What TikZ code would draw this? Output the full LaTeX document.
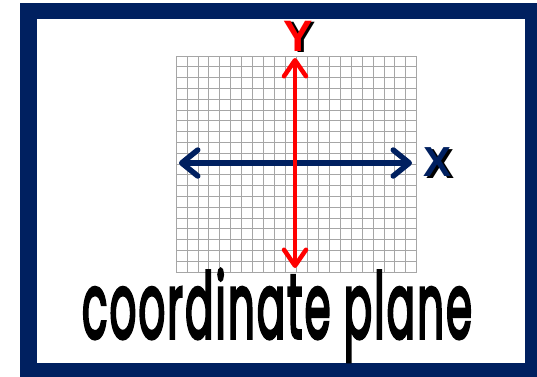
\documentclass[tikz,border=0pt]{standalone}
\usepackage{fontspec}
\usetikzlibrary{arrows.meta}
\newfontfamily\labfont{Liberation Sans}
\newfontfamily\comic{Poppins}[LetterSpace=5, FakeBold=4]
\definecolor{navy}{HTML}{002060}
\newcommand{\shadowed}[4]{\makebox[0pt][l]{\hspace*{#1}\raisebox{#2}{\color{black}#4}}{\color{#3}#4}}
\tikzset{
  gridline/.style={draw=gray!70, line width=0.7pt},
  axislab/.style={inner sep=0pt, anchor=center},
}
\begin{document}
\begin{tikzpicture}[x=1pt,y=-1pt]
\useasboundingbox (0,0) rectangle (537,376);
% frame
\fill[navy] (20,3) rectangle (540,380);
\fill[white] (36.5,19) rectangle (524.5,362.7);
% grid
\foreach \i in {0,...,22}
  \draw[gridline] ({176+\i*10.94},56) -- ({176+\i*10.94},272);
\foreach \j in {0,...,20}
  \draw[gridline] (176,{56+\j*10.8}) -- (416.7,{56+\j*10.8});
% axes
\coordinate (ytop) at (295,58);
\coordinate (ybot) at (295,268);
\coordinate (xleft) at (179,163);
\coordinate (xright) at (412,163);
\draw[navy, line width=5.5pt, {Straight Barb[length=16pt,width=26pt,round]}-{Straight Barb[length=16pt,width=26pt,round]}] (xleft) -- (xright);
\draw[red, line width=4.5pt, {Straight Barb[length=16pt,width=22pt,round]}-{Straight Barb[length=16pt,width=22pt,round]}] (ytop) -- (ybot);
% labels
\node[axislab, font=\labfont\bfseries\fontsize{44}{44}\selectfont] (ylab) at (298,37) {\shadowed{3.5pt}{-1.5pt}{red}{Y}};
\node[axislab, font=\labfont\bfseries\fontsize{42}{42}\selectfont] (xlab) at (437,163.5) {\shadowed{3.5pt}{-2pt}{navy}{X}};
% title
\node[anchor=base, inner sep=0pt] (title) at (277,338)
  {\resizebox{390pt}{69pt}{\comic coordinate plane}};
\end{tikzpicture}
\end{document}
